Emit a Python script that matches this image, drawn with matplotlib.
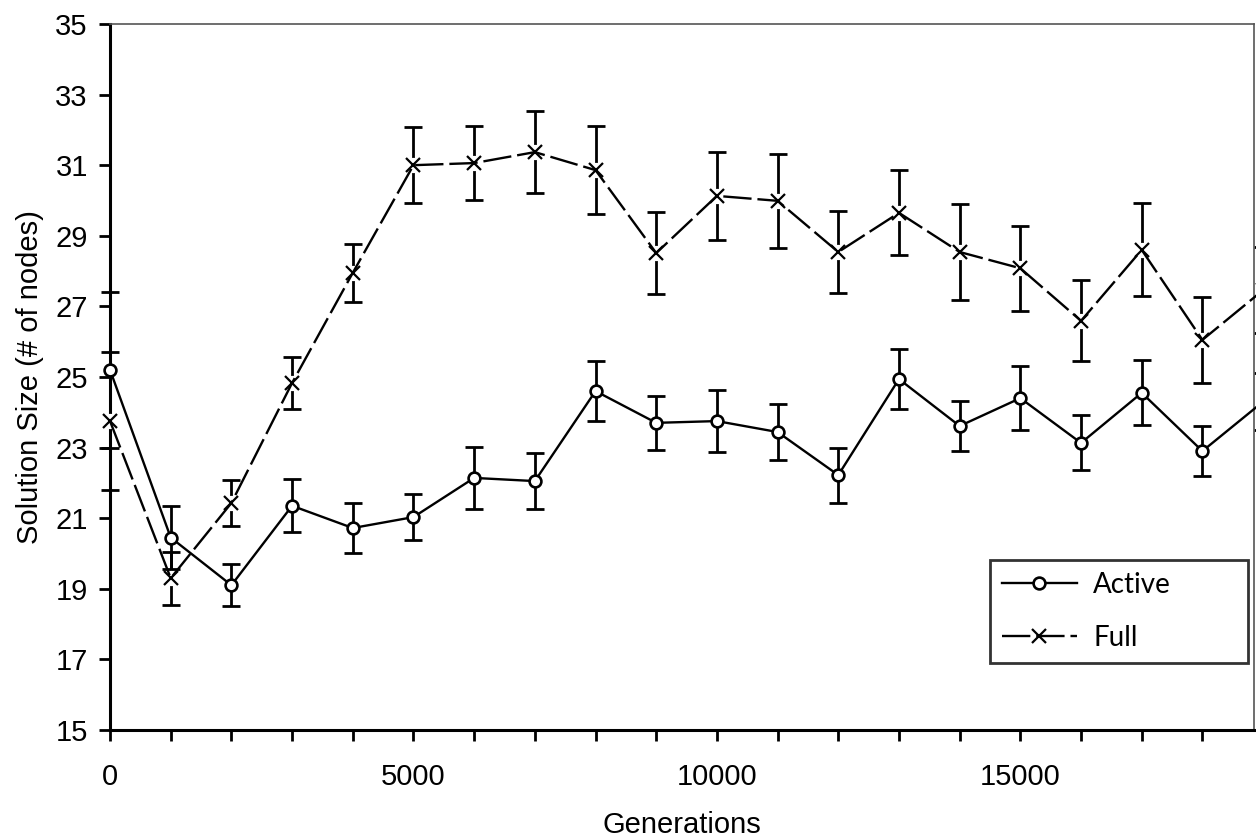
import matplotlib.pyplot as plt
from matplotlib.ticker import MultipleLocator

plt.rcParams['font.family'] = ['Liberation Sans', 'DejaVu Sans']

# Data (mean solution size and error bar half-widths)
generations = [0, 1000, 2000, 3000, 4000, 5000, 6000, 7000, 8000, 9000,
               10000, 11000, 12000, 13000, 14000, 15000, 16000, 17000, 18000, 19000]
active = [25.2, 20.45, 19.1, 21.35, 20.72, 21.03, 22.14, 22.05, 24.6, 23.7,
          23.75, 23.44, 22.22, 24.94, 23.61, 24.4, 23.13, 24.55, 22.9, 24.3]
active_err = [2.2, 0.9, 0.6, 0.75, 0.72, 0.65, 0.87, 0.8, 0.85, 0.77,
              0.88, 0.8, 0.78, 0.85, 0.7, 0.9, 0.78, 0.92, 0.72, 0.8]
full = [23.75, 19.3, 21.43, 24.83, 27.95, 31.0, 31.06, 31.37, 30.86, 28.51,
        30.13, 29.99, 28.54, 29.65, 28.54, 28.08, 26.59, 28.6, 26.05, 27.46]
full_err = [1.95, 0.75, 0.65, 0.73, 0.83, 1.07, 1.05, 1.17, 1.25, 1.17,
            1.25, 1.33, 1.15, 1.2, 1.36, 1.2, 1.15, 1.32, 1.22, 1.22]

fig = plt.figure(figsize=(12.56, 8.39), dpi=100)
ax = fig.add_axes([0.0876, 0.130, 0.9108, 0.8414])

# error bars first, markers on top
ax.errorbar(generations, active, yerr=active_err, fmt='none', ecolor='black',
            elinewidth=2, capsize=6.5, capthick=2, clip_on=False, zorder=2)
ax.errorbar(generations, full, yerr=full_err, fmt='none', ecolor='black',
            elinewidth=2, capsize=6.5, capthick=2, clip_on=False, zorder=2)

# white halo behind the crosses, like the gaps in the original
ax.plot(generations, full, linestyle='none', marker='o', ms=11,
        mfc='white', mec='none', clip_on=False, zorder=3)

line_a, = ax.plot(generations, active, color='black', lw=1.7, marker='o', ms=8.5,
                  mfc='white', mec='black', mew=1.9, clip_on=False, zorder=4,
                  label='Active')
line_f, = ax.plot(generations, full, color='black', lw=1.7, dashes=(12, 2.5),
                  marker='x', ms=10, mew=1.6, clip_on=False, zorder=4,
                  label='Full')

ax.set_xlim(0, 18850)
ax.set_ylim(15, 35)
ax.set_yticks(range(15, 36, 2))
ax.xaxis.set_major_locator(MultipleLocator(5000))
ax.xaxis.set_minor_locator(MultipleLocator(1000))

ax.tick_params(axis='both', which='both', direction='out', length=8, width=2,
               colors='black', labelsize=21)
ax.tick_params(axis='x', which='major', pad=16)
ax.tick_params(axis='y', which='major', pad=8)

for side in ['left', 'bottom']:
    ax.spines[side].set_linewidth(2.2)
    ax.spines[side].set_color('black')
for side in ['top', 'right']:
    ax.spines[side].set_linewidth(1.2)
    ax.spines[side].set_color('#555555')

ax.set_xlabel('Generations', fontsize=21, labelpad=14)
ax.set_ylabel('Solution Size (# of nodes)', fontsize=21, labelpad=8)

leg = ax.legend(handles=[line_a, line_f], loc='lower left',
                bbox_to_anchor=(0.769, 0.095, 0.226, 0.146), mode='expand',
                frameon=True, fancybox=False,
                prop={'family': 'Lato', 'size': 20}, handlelength=2.7,
                handletextpad=0.6, labelspacing=0.97, borderpad=0.43,
                borderaxespad=0, edgecolor='black')
leg.get_frame().set_linewidth(2)

fig.savefig('out.png', dpi=100)
